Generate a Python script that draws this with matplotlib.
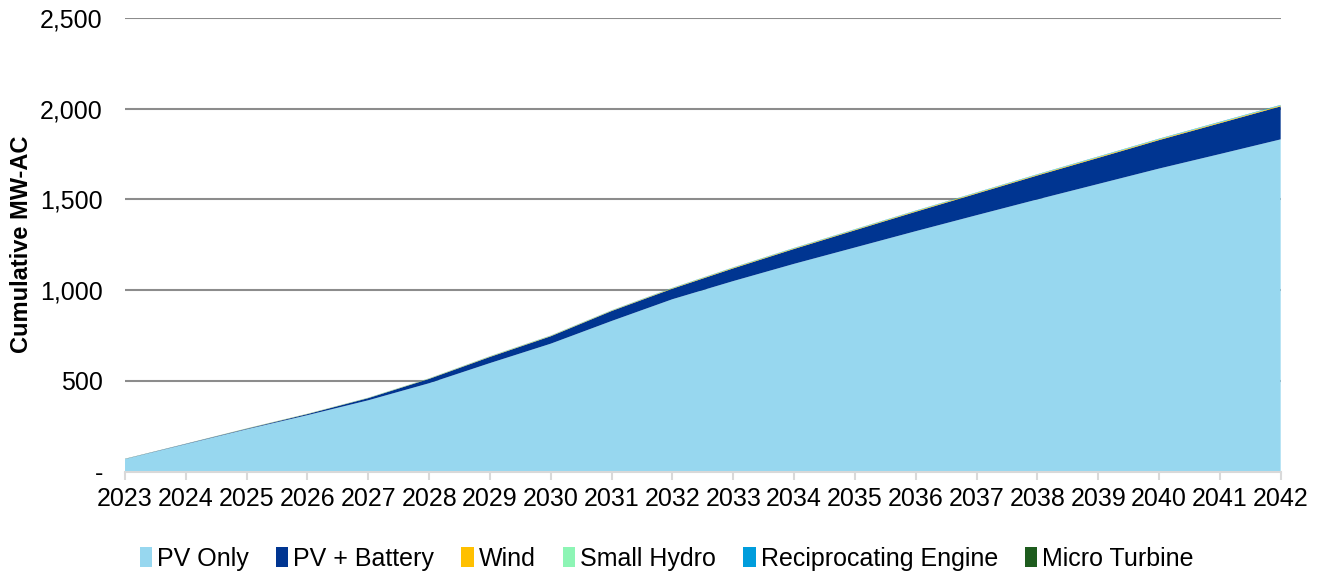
import matplotlib.pyplot as plt
from matplotlib.patches import Patch
from matplotlib.ticker import FuncFormatter

plt.rcParams['font.family'] = ['Liberation Sans', 'DejaVu Sans']

# Cumulative MW-AC by year
years = list(range(2023, 2043))
pv_only = [69, 151, 233, 311, 393, 487, 598, 705, 830, 950,
           1050, 1145, 1235, 1325, 1413, 1500, 1585, 1670, 1750, 1831]
pv_battery = [1, 2, 3, 6, 12, 24, 34, 41, 55, 58,
              70, 82, 95, 107, 119, 132, 144, 157, 170, 182]
wind = [0.5, 0.5, 1, 1, 1, 1.5, 2, 2, 2, 2.5,
        3, 3, 3, 3.5, 3.5, 3.5, 4, 4, 4, 4]
small_hydro = [0.3, 0.3, 0.5, 0.5, 0.7, 0.8, 1, 1, 1, 1.2,
               1.3, 1.4, 1.5, 1.5, 1.6, 1.7, 1.8, 1.9, 2, 2]
recip_engine = [0.3, 0.3, 0.5, 0.5, 0.7, 0.8, 1, 1, 1, 1.2,
                1.3, 1.4, 1.5, 1.5, 1.6, 1.7, 1.8, 1.9, 2, 2]
micro_turbine = [0, 0, 0, 0, 0, 0, 0, 0, 0, 0,
                 0, 0, 0, 0, 0, 0, 0, 0, 0, 0]

labels = ['PV Only', 'PV + Battery', 'Wind', 'Small Hydro',
          'Reciprocating Engine', 'Micro Turbine']
colors = ['#97D7EF', '#003591', '#FFC000', '#8DF5B5', '#009DDC', '#1E5C1E']

fig = plt.figure(figsize=(13.23, 5.73), dpi=100)
ax = fig.add_axes([0.0945, 0.177, 0.8735, 0.7916])

ax.stackplot(years, pv_only, pv_battery, wind, small_hydro, recip_engine,
             micro_turbine, colors=colors, linewidth=0)

ax.set_xlim(2023, 2042)
ax.set_ylim(0, 2500)
ax.set_xticks(years)
ax.set_yticks(range(0, 2501, 500))
ax.yaxis.set_major_formatter(FuncFormatter(lambda v, _: '-' if v == 0 else f'{v:,.0f}'))

ax.set_axisbelow(True)
ax.yaxis.grid(True, color='#8C8C8C', linewidth=1.5)
ax.get_ygridlines()[0].set_visible(False)

for s in ['top', 'right', 'left']:
    ax.spines[s].set_visible(False)
ax.spines['bottom'].set_color('#D9D9D9')
ax.spines['bottom'].set_linewidth(1.5)
ax.spines['bottom'].set_zorder(5)

ax.tick_params(axis='x', length=6, width=1.5, color='#D9D9D9', labelsize=18, pad=5)
ax.tick_params(axis='y', length=0, labelsize=18, pad=16)

ax.set_ylabel('Cumulative MW-AC', fontsize=17, fontweight='bold')
ax.yaxis.set_label_coords(-0.080, 0.5)

handles = [Patch(facecolor=c, edgecolor='none') for c in colors]
fig.legend(handles, labels, loc='center', bbox_to_anchor=(0.504, 0.025),
           ncol=6, frameon=False, fontsize=18, handlelength=0.5,
           handleheight=0.8, handletextpad=0.2, columnspacing=1.08)

fig.savefig('out.png', dpi=100)
